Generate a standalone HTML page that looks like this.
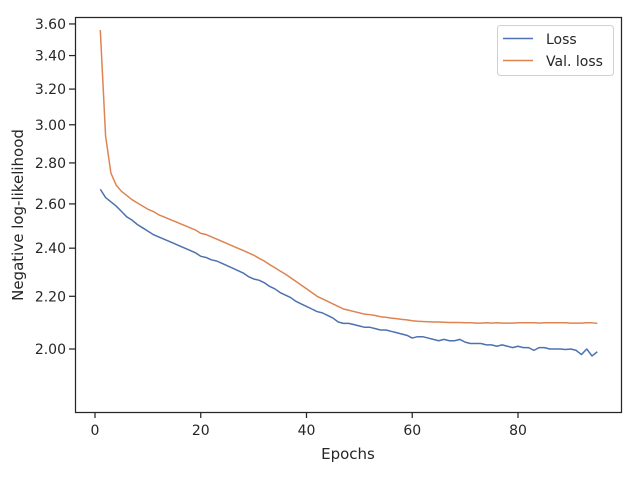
<!DOCTYPE html>
<html><head><meta charset="utf-8"><style>
body{margin:0;background:#fff;}
svg{display:block;font-family:"DejaVu Sans","Liberation Sans",sans-serif;}
</style></head><body>
<svg id="chart" width="640" height="480">
<rect x="0" y="0" width="640" height="480" fill="#fff"/>
<g id="plot"></g>
<rect x="75.5" y="17.5" width="546" height="395" fill="none" stroke="#262626" stroke-width="1.25"/>
<g id="xt"></g><g id="yt"></g>
<text x="348" y="459" font-size="15" fill="#262626" text-anchor="middle">Epochs</text>
<text transform="translate(23,215) rotate(-90)" font-size="15" fill="#262626" text-anchor="middle">Negative log-likelihood</text>
<g>
<rect x="497.5" y="25.5" width="116" height="50" rx="3" fill="#fff" stroke="#d0d0d0"/>
<line x1="503" y1="38.5" x2="533" y2="38.5" stroke="#4c72b0" stroke-width="1.5"/>
<text x="546" y="44" font-size="14" fill="#262626">Loss</text>
<line x1="503" y1="60.5" x2="533" y2="60.5" stroke="#dd8452" stroke-width="1.5"/>
<text x="546" y="66" font-size="14" fill="#262626">Val. loss</text>
</g>
</svg>
<script>
const lossValues=[2.67,2.63,2.61,2.59,2.565,2.54,2.525,2.505,2.49,2.475,
2.46,2.45,2.44,2.43,2.42,2.41,2.40,2.39,2.38,2.365,
2.36,2.35,2.345,2.335,2.325,2.315,2.305,2.295,2.28,2.27,
2.265,2.255,2.24,2.23,2.215,2.205,2.195,2.18,2.17,2.16,
2.15,2.14,2.135,2.125,2.115,2.10,2.095,2.095,2.09,2.085,
2.08,2.08,2.075,2.07,2.07,2.065,2.06,2.055,2.05,2.04,
2.045,2.045,2.04,2.035,2.03,2.035,2.03,2.03,2.035,2.025,
2.02,2.02,2.02,2.015,2.015,2.01,2.015,2.01,2.005,2.01,
2.005,2.005,1.995,2.005,2.005,2.0,2.0,2.0,1.998,2.0,
1.995,1.98,2.0,1.975,1.99];
const valValues=[3.56,2.94,2.75,2.69,2.66,2.64,2.62,2.605,2.59,2.575,
2.565,2.55,2.54,2.53,2.52,2.51,2.50,2.49,2.48,2.465,
2.46,2.45,2.44,2.43,2.42,2.41,2.40,2.39,2.38,2.37,
2.357,2.345,2.33,2.317,2.303,2.29,2.275,2.26,2.245,2.23,
2.215,2.20,2.19,2.18,2.17,2.16,2.15,2.145,2.14,2.135,
2.13,2.128,2.125,2.12,2.118,2.115,2.113,2.11,2.108,2.105,
2.103,2.102,2.101,2.1,2.1,2.099,2.098,2.098,2.098,2.097,
2.097,2.096,2.096,2.097,2.096,2.097,2.096,2.096,2.096,2.097,
2.097,2.097,2.097,2.096,2.097,2.097,2.097,2.097,2.097,2.096,
2.096,2.096,2.097,2.097,2.095];
const xTicks=[0,20,40,60,80];
const yTicks=[2.0,2.2,2.4,2.6,2.8,3.0,3.2,3.4,3.6];
const NS="http://www.w3.org/2000/svg";
const x=v=>95+(v*(518-95)/80);
const y=v=>349-(Math.log(v)-Math.log(2))*553;
function mk(t,a,p){const e=document.createElementNS(NS,t);for(const k in a)e.setAttribute(k,a[k]);p.appendChild(e);return e;}
const xt=document.getElementById('xt'),yt=document.getElementById('yt'),plot=document.getElementById('plot');
xTicks.forEach(v=>{
 const l=mk('line',{x1:x(v),x2:x(v),y1:412,y2:418,stroke:'#262626','stroke-width':1.25},xt);
 
 
 const t=mk('text',{x:x(v),y:435,'font-size':14,fill:'#262626','text-anchor':'middle'},xt);
 t.textContent=v;
 
 
});
yTicks.forEach(v=>{
 const l=mk('line',{x1:69,x2:75,y1:y(v),y2:y(v),stroke:'#262626','stroke-width':1.25},yt);
 
 
 const t=mk('text',{x:66,y:y(v)+5,'font-size':14,fill:'#262626','text-anchor':'end'},yt);
 t.textContent=v.toFixed(2);
 
 
});
function line(vals,color,name){
 const pts=vals.map((v,i)=>x(i+1).toFixed(2)+','+y(v).toFixed(2)).join(' ');
 const p=mk('polyline',{points:pts,fill:'none',stroke:color,'stroke-width':1.5,'stroke-linejoin':'round'},plot);
 
 
}
line(lossValues,'#4c72b0','loss-line');
line(valValues,'#dd8452','val-loss-line');
</script>
</body></html>
